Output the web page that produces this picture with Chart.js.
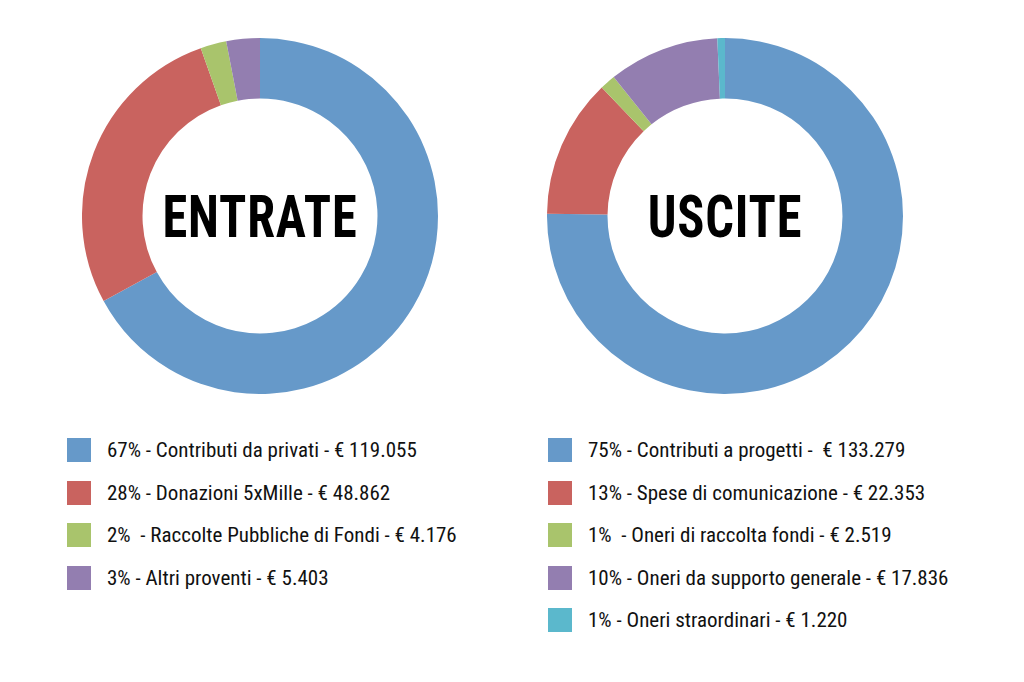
<!DOCTYPE html>
<html><head><meta charset="utf-8">
<script src="https://cdn.jsdelivr.net/npm/chart.js@4/dist/chart.umd.min.js"></script>
<style>
body{margin:0;background:#fff;width:1024px;height:682px;position:relative;overflow:hidden;font-family:"Liberation Sans Narrow","Roboto Condensed","DejaVu Sans Condensed",sans-serif;}
.box{position:absolute;top:38px;width:356px;height:356px;}
.center{position:absolute;top:38px;width:356px;height:356px;display:flex;align-items:center;justify-content:center;font-size:60px;font-weight:bold;color:#000;transform:scaleX(0.84);letter-spacing:1px;pointer-events:none;}
.leg{position:absolute;top:429px;font-size:21px;color:#111;}
.row{height:42.5px;display:flex;align-items:center;}
.sw{width:24px;height:24px;margin-right:16px;}
</style></head><body>
<div class="box" style="left:82px"><canvas id="c1"></canvas></div>
<div class="box" style="left:547px"><canvas id="c2"></canvas></div>
<div class="center" style="left:82px">ENTRATE</div>
<div class="center" style="left:547px">USCITE</div>
<div class="leg" id="l1" style="left:67px"></div>
<div class="leg" id="l2" style="left:548px"></div>
<script>
const entrateLabels=["67% - Contributi da privati - € 119.055","28% - Donazioni 5xMille - € 48.862","2%  - Raccolte Pubbliche di Fondi - € 4.176","3% - Altri proventi - € 5.403"];
const entrateValues=[119055,48862,4176,5403];
const usciteLabels=["75% - Contributi a progetti -  € 133.279","13% - Spese di comunicazione - € 22.353","1%  - Oneri di raccolta fondi - € 2.519","10% - Oneri da supporto generale - € 17.836","1% - Oneri straordinari - € 1.220"];
const usciteValues=[133279,22353,2519,17836,1220];
const colors=["#6699C9","#C9635F","#A9C46C","#937EB0","#5BB8CC"];
function make(id,labels,values,legId){
  new Chart(document.getElementById(id),{type:'doughnut',
    data:{labels:labels,datasets:[{data:values,backgroundColor:colors.slice(0,values.length),borderWidth:0}]},
    options:{responsive:true,maintainAspectRatio:false,animation:false,cutout:'66%',
      plugins:{legend:{display:false},tooltip:{enabled:false}},layout:{padding:0}}});
  const l=document.getElementById(legId);
  labels.forEach((t,i)=>{const r=document.createElement('div');r.className='row';
    r.innerHTML='<div class="sw" style="background:'+colors[i]+'"></div><span>'+t.replace(/ /g,'&nbsp;')+'</span>';l.appendChild(r);});
}
make('c1',entrateLabels,entrateValues,'l1');
make('c2',usciteLabels,usciteValues,'l2');
</script></body></html>
